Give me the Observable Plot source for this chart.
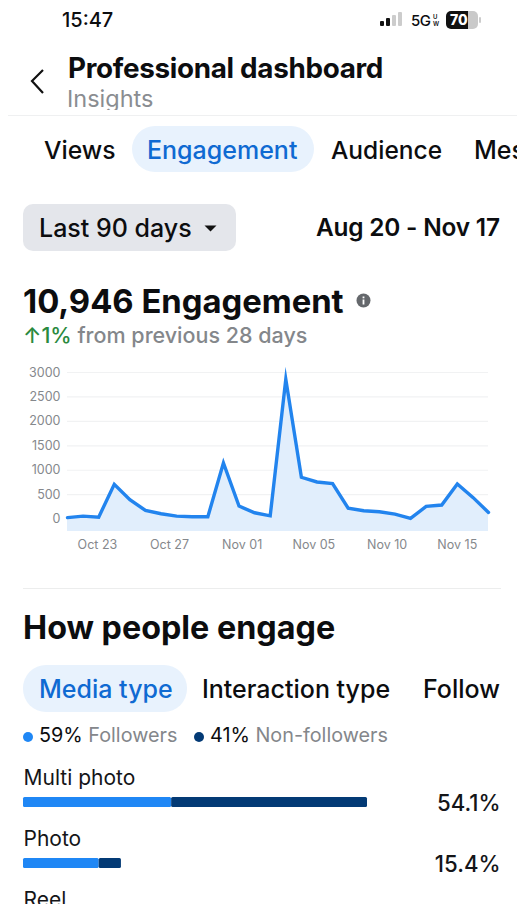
<!DOCTYPE html>
<html>
<head>
<meta charset="utf-8">
<script src="https://cdn.jsdelivr.net/npm/d3@7"></script>
<script src="https://cdn.jsdelivr.net/npm/@observablehq/plot@0.6"></script>
<style>
html,body{margin:0;padding:0;background:#fff;overflow:hidden}
#page{position:relative;width:520px;height:904px;overflow:hidden;font-family:Inter,"Noto Sans",sans-serif;color:#0c0d0f;background:#fff}
#page>*{position:absolute}
.t{white-space:nowrap;line-height:1;transform:translateY(-50%)}
.pill{background:#e8f2fd}
.b{font-weight:600}
.g{color:#84878b}
svg{overflow:visible}
</style>
</head>
<body>
<div id="page">
  <div class="t b" style="left:62px;top:20px;font-size:20px;font-weight:500">15:47</div>
  <div style="left:380px;top:21px;width:4px;height:5px;background:#111;border-radius:1px"></div>
  <div style="left:386px;top:18px;width:4px;height:8px;background:#111;border-radius:1px"></div>
  <div style="left:392px;top:15px;width:4px;height:11px;background:#ccc;border-radius:1px"></div>
  <div style="left:398px;top:12px;width:4px;height:14px;background:#ccc;border-radius:1px"></div>
  <div class="t" style="left:411px;top:20px;font-size:15px;font-weight:500;letter-spacing:-.4px">5G</div>
  <div class="t" style="left:433px;top:17px;font-size:6px;font-weight:600">U</div>
  <div class="t" style="left:433px;top:24px;font-size:6px;font-weight:600">W</div>
  <div style="left:446px;top:11px;width:32px;height:18px;border-radius:5px;background:linear-gradient(90deg,#111 70%,#c9c9c9 70%)"></div>
  <div class="t" style="left:450px;top:20px;font-size:14px;font-weight:800;color:#fff">70</div>
  <div style="left:479px;top:17px;width:2px;height:6px;background:#ccc;border-radius:1px"></div>

  <svg style="left:28px;top:68px" width="20" height="28"><path d="M15 2 L4 13 L15 25" fill="none" stroke="#111" stroke-width="2.2"/></svg>
  <div class="t" style="left:68px;top:69px;font-size:27.8px;font-weight:700;letter-spacing:-.3px">Professional dashboard</div>
  <div style="left:67px;top:84px;height:26px;overflow:hidden"><div style="font-size:23.5px;line-height:30px;color:#8a8d91">Insights</div></div>
  <div style="left:8px;top:115px;width:509px;height:1px;background:#eff0f1"></div>

  <div style="left:0;top:120px;width:517px;height:60px;overflow:hidden">
    <div class="pill" style="position:absolute;left:132px;top:6px;width:182px;height:46px;border-radius:23px"></div>
    <div class="t" style="position:absolute;left:44px;top:30px;font-size:24.7px;font-weight:500">Views</div>
    <div class="t" style="position:absolute;left:147px;top:30px;font-size:25px;font-weight:500;color:#0f6ad2">Engagement</div>
    <div class="t" style="position:absolute;left:331px;top:30px;font-size:24.5px;font-weight:500">Audience</div>
    <div class="t" style="position:absolute;left:474px;top:30px;font-size:25px;font-weight:500">Messages</div>
  </div>

  <div style="left:23px;top:204px;width:213px;height:47px;border-radius:10px;background:#e4e6eb"></div>
  <div class="t" style="left:39px;top:228px;font-size:25px;font-weight:500">Last 90 days</div>
  <svg style="left:204px;top:225px" width="13" height="8"><path d="M0.5 0.5 H12.5 L6.5 6.5 Z" fill="#111"/></svg>
  <div class="t" style="left:316px;top:227px;font-size:24.4px;font-weight:600;letter-spacing:-.2px">Aug 20 - Nov 17</div>

  <div class="t" style="left:23px;top:301px;font-size:32.8px;font-weight:700">10,946 Engagement</div>
  <svg style="left:356px;top:293px" width="15" height="15"><circle cx="7.5" cy="7.5" r="7" fill="#65686c"/><rect x="6.6" y="6.5" width="1.8" height="5" fill="#fff"/><rect x="6.6" y="3.5" width="1.8" height="1.8" fill="#fff"/></svg>
  <div class="t" style="left:23px;top:336px;font-size:21.5px;font-weight:500;color:#84878b"><span style="color:#2a8a3e">↑1%</span> from previous 28 days</div>

  <div id="lineChart" style="left:0;top:360px"></div>

  <div style="left:23px;top:588px;width:478px;height:1px;background:#eceded"></div>
  <div class="t" style="left:23px;top:628px;font-size:32.3px;font-weight:700">How people engage</div>

  <div class="pill" style="left:23px;top:665px;width:164px;height:47px;border-radius:23px"></div>
  <div class="t" style="left:39px;top:689px;font-size:25px;font-weight:500;color:#0f6ad2">Media type</div>
  <div class="t" style="left:202px;top:689px;font-size:25px;font-weight:500">Interaction type</div>
  <div class="t" style="left:423px;top:689px;font-size:25px;font-weight:500">Follow</div>

  <div style="left:23px;top:732px;width:10px;height:10px;border-radius:50%;background:#1f87f5"></div>
  <div class="t" style="left:39px;top:736px;font-size:19.8px"><span>59%</span> <span class="g">Followers</span></div>
  <div style="left:194px;top:732px;width:10px;height:10px;border-radius:50%;background:#033a75"></div>
  <div class="t" style="left:210px;top:736px;font-size:19.8px"><span>41%</span> <span class="g">Non-followers</span></div>

  <div id="barChart" style="left:0;top:760px"></div>
</div>
<script>
// Last 28 days of engagement
const days = ["Oct 21","Oct 22","Oct 23","Oct 24","Oct 25","Oct 26","Oct 27","Oct 28","Oct 29","Oct 30","Oct 31","Nov 01","Nov 02","Nov 03","Nov 04","Nov 05","Nov 06","Nov 07","Nov 08","Nov 09","Nov 10","Nov 11","Nov 12","Nov 13","Nov 14","Nov 15","Nov 16","Nov 17"];
const engagement = [30,62,40,712,397,178,110,62,48,48,1150,267,130,68,2860,856,760,726,226,171,150,103,14,260,288,719,445,137];
const yTicks = [0,500,1000,1500,2000,2500,3000];
const xTickLabels = ["Oct 23","Oct 27","Nov 01","Nov 05","Nov 10","Nov 15"];
const xTickAt = [1.92,6.54,11.2,15.8,20.5,25];
const areaFloor = -253;

// Media-type breakdown (share of engagement, %)
const mediaTypes = ["Multi photo","Photo"];
const followers = [23.3,11.9];
const nonFollowers = [30.8,3.5];
const totals = [54.1,15.4];
const seriesNames = ["Followers","Non-followers"];

const lineData = engagement.map((v,i)=>({i,v,day:days[i]}));
document.getElementById("lineChart").append(Plot.plot({
  width:520,height:200,marginLeft:67,marginRight:32,marginTop:12,marginBottom:29,
  style:{fontFamily:"Inter, sans-serif",background:"transparent",overflow:"visible"},
  x:{domain:[0,days.length-1],axis:null},
  y:{domain:[areaFloor,3000],axis:null},
  marks:[
    Plot.ruleY(yTicks,{stroke:"#f1f2f3",strokeWidth:1.2}),
    Plot.areaY(lineData,{x:"i",y1:areaFloor,y2:"v",fill:"#e1eefc"}),
    Plot.line(lineData,{x:"i",y:"v",stroke:"#2284ee",strokeWidth:3.4,strokeLinejoin:"miter",strokeMiterlimit:12}),
    Plot.text(yTicks,{y:d=>d,frameAnchor:"left",text:d=>String(d),textAnchor:"end",dx:-7,fontSize:12.5,fill:"#85888c"}),
    Plot.text(xTickAt,{x:d=>d,text:(d,i)=>xTickLabels[i],frameAnchor:"bottom",dy:17,fontSize:12.5,fill:"#85888c",letterSpacing:0.35})
  ]
}));

const barData = mediaTypes.flatMap((m,i)=>[
  {m,series:seriesNames[0],v:followers[i]},
  {m,series:seriesNames[1],v:nonFollowers[i]}
]);
const totalData = mediaTypes.map((m,i)=>({m,total:totals[i]}));
document.getElementById("barChart").append(Plot.plot({
  width:520,height:144,marginLeft:23,marginRight:20,marginTop:0,marginBottom:0,
  style:{fontFamily:"Inter, sans-serif",background:"transparent",overflow:"visible"},
  x:{domain:[0,54.1],range:[23,367],axis:null},
  y:{domain:mediaTypes,range:[36,108.5],paddingInner:0.83,paddingOuter:0,axis:null},
  color:{domain:seriesNames,range:["#1f87f5","#033a75"]},
  marks:[
    Plot.barX(barData,{y:"m",x:"v",fill:"series",rx:1.5}),
    Plot.text(totalData,{y:"m",text:"m",frameAnchor:"left",dy:-24.5,fontSize:21,fill:"#141518"}),
    Plot.text(totalData,{y:"m",text:d=>d.total+"%",frameAnchor:"right",textAnchor:"end",dy:1,fontSize:22.2,fontWeight:500,fill:"#141518"}),
    Plot.text(["Reel"],{text:d=>d,frameAnchor:"bottom-left",dy:2,fontSize:21,fill:"#141518"})
  ]
}));
</script>
</body>
</html>
